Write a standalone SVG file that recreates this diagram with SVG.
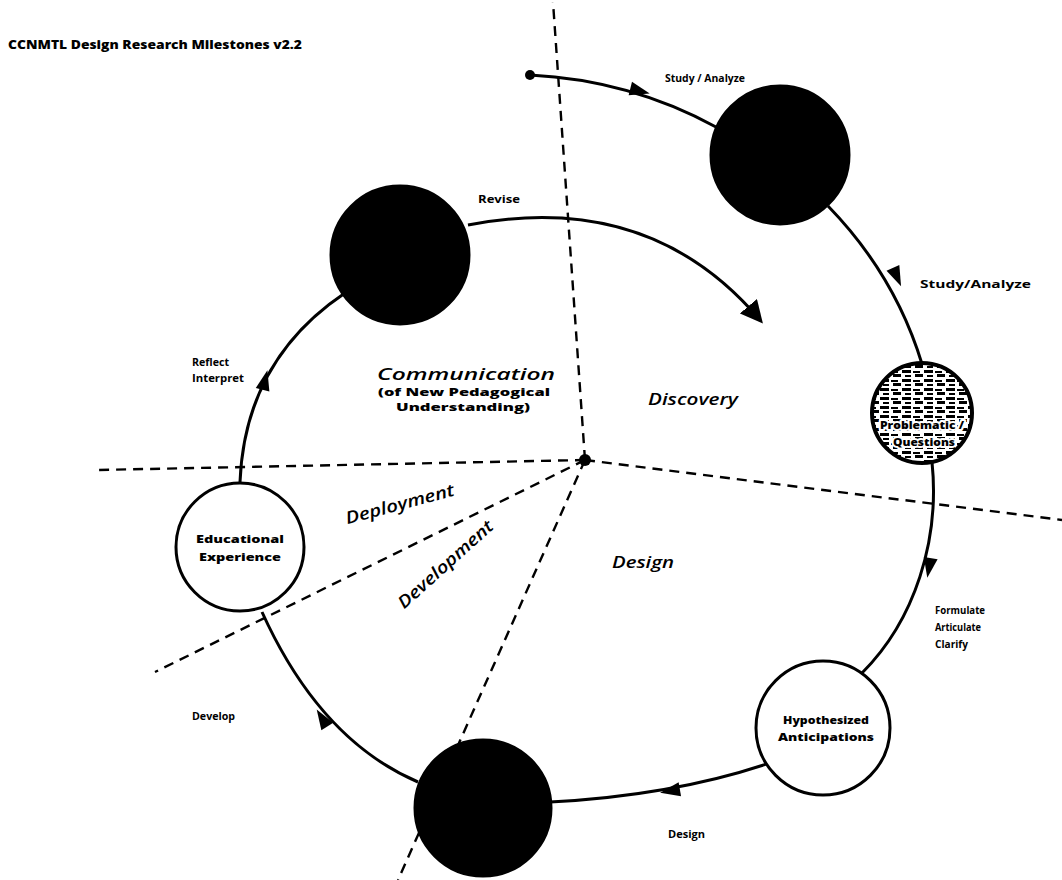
<svg xmlns="http://www.w3.org/2000/svg" width="1062" height="880" viewBox="0 0 1062 880">
<style>
.t{font-family:"Open Sans","Liberation Sans",sans-serif;fill:#000}
.lbl{font-size:10px;font-weight:bold}
.reg{font-size:17px;font-style:italic;font-weight:600}
.dash{stroke:#000;stroke-width:2.4;stroke-dasharray:10 7;fill:none}
.flow{stroke:#000;stroke-width:3;fill:none}
.node{stroke:#000;stroke-width:3}
.ntx{font-size:11px;font-weight:800;text-anchor:middle}
.halo{stroke:#fff;stroke-width:4;paint-order:stroke;stroke-linejoin:round}
</style>
<defs>
<marker id="ah" viewBox="0 0 10 10" refX="8" refY="5" markerWidth="7.5" markerHeight="7.5" orient="auto" markerUnits="strokeWidth">
<path d="M0,0 L10,5 L0,10 z" fill="#000"/>
</marker>
<pattern id="hatch" width="22" height="9" patternUnits="userSpaceOnUse">
<rect width="22" height="9" fill="#fff"/>
<rect x="0" y="1" width="9" height="3" fill="#000"/>
<rect x="11" y="2" width="7" height="2" fill="#000"/>
<rect x="3" y="6" width="6" height="2" fill="#000"/>
<rect x="13" y="5" width="8" height="3" fill="#000"/>
</pattern>
<path id="tri" d="M-10,-7 L10,0 L-10,7 z" fill="#000"/>
</defs>
<rect width="1062" height="880" fill="#fff"/>
<text class="t" x="8" y="49" font-size="13" font-weight="800" textLength="294" lengthAdjust="spacingAndGlyphs">CCNMTL Design Research Milestones v2.2</text>

<g id="sectors">
<line class="dash" x1="585" y1="460" x2="553" y2="2"/>
<line class="dash" x1="585" y1="460" x2="98" y2="470"/>
<line class="dash" x1="585" y1="460" x2="1062" y2="520"/>
<line class="dash" x1="585" y1="460" x2="155" y2="672"/>
<line class="dash" x1="585" y1="460" x2="398" y2="880"/>
<circle cx="585" cy="460" r="6" fill="#000"/>
</g>

<g id="connectors">
<circle cx="530" cy="75" r="5" fill="#000"/>
<path class="flow" d="M530,75 Q630,80 716,127"/>
<path class="flow" d="M828,206 Q895,275 922,364"/>
<path class="flow" d="M932,462 C940,540 915,620 862,673"/>
<path class="flow" d="M778,760 Q680,795 550,802"/>
<path class="flow" d="M418,782 Q320,740 262,612"/>
<path class="flow" d="M240,482 Q245,360 345,293"/>
<path class="flow" d="M468,225 Q650,190 760,320" marker-end="url(#ah)"/>
<use href="#tri" transform="translate(640,91) rotate(14)"/>
<use href="#tri" transform="translate(897,277) rotate(66)"/>
<use href="#tri" transform="translate(929,568) rotate(100)"/>
<use href="#tri" transform="translate(670,791) rotate(170)"/>
<use href="#tri" transform="translate(322,718) rotate(-122)"/>
<use href="#tri" transform="translate(265,380) rotate(-76)"/>
</g>

<g id="edge-labels">
<text class="t lbl" x="665" y="82" textLength="80" lengthAdjust="spacingAndGlyphs">Study / Analyze</text>
<text class="t lbl" x="920" y="288" textLength="111" lengthAdjust="spacingAndGlyphs">Study/Analyze</text>
<text class="t lbl" x="935" y="614" textLength="50" lengthAdjust="spacingAndGlyphs">Formulate</text>
<text class="t lbl" x="935" y="631" textLength="46" lengthAdjust="spacingAndGlyphs">Articulate</text>
<text class="t lbl" x="935" y="648" textLength="33" lengthAdjust="spacingAndGlyphs">Clarify</text>
<text class="t lbl" x="668" y="838" textLength="37" lengthAdjust="spacingAndGlyphs">Design</text>
<text class="t lbl" x="192" y="720" textLength="43" lengthAdjust="spacingAndGlyphs">Develop</text>
<text class="t lbl" x="192" y="366" textLength="37" lengthAdjust="spacingAndGlyphs">Reflect</text>
<text class="t lbl" x="192" y="382" textLength="52" lengthAdjust="spacingAndGlyphs">Interpret</text>
<text class="t lbl" x="478" y="203" textLength="42" lengthAdjust="spacingAndGlyphs">Revise</text>
</g>

<g id="regions">
<text class="t reg" x="377" y="380" textLength="178" lengthAdjust="spacingAndGlyphs" font-weight="400">Communication</text>
<text class="t" x="378" y="396" font-size="11" font-weight="800" textLength="172" lengthAdjust="spacingAndGlyphs">(of New Pedagogical</text>
<text class="t" x="396" y="411" font-size="11" font-weight="800" textLength="134" lengthAdjust="spacingAndGlyphs">Understanding)</text>
<text class="t reg" x="648" y="405" font-weight="800" textLength="90" lengthAdjust="spacingAndGlyphs">Discovery</text>
<text class="t reg" x="400" y="510" text-anchor="middle" transform="rotate(-15 400 505)" textLength="112" lengthAdjust="spacingAndGlyphs">Deployment</text>
<text class="t reg" x="446" y="570" text-anchor="middle" transform="rotate(-42 446 565)" textLength="122" lengthAdjust="spacingAndGlyphs">Development</text>
<text class="t reg" x="612" y="568" textLength="62" lengthAdjust="spacingAndGlyphs">Design</text>
</g>

<g id="node-a"><circle class="node" cx="780" cy="155" r="69" fill="#000"/></g>
<g id="node-b">
<circle cx="922" cy="413" r="50" fill="url(#hatch)" stroke="#000" stroke-width="4"/>
<text class="t ntx halo" x="922" y="429" textLength="84" lengthAdjust="spacingAndGlyphs">Problematic /</text>
<text class="t ntx halo" x="924" y="446" textLength="62" lengthAdjust="spacingAndGlyphs">Questions</text>
</g>
<g id="node-c"><circle class="node" cx="823" cy="728" r="67" fill="#fff"/>
<text class="t ntx" x="826" y="724" textLength="86" lengthAdjust="spacingAndGlyphs">Hypothesized</text>
<text class="t ntx" x="826" y="741" textLength="96" lengthAdjust="spacingAndGlyphs">Anticipations</text>
</g>
<g id="node-d"><circle class="node" cx="483" cy="808" r="68" fill="#000"/></g>
<g id="node-e"><circle class="node" cx="240" cy="547" r="64" fill="#fff"/>
<text class="t ntx" x="240" y="543" textLength="88" lengthAdjust="spacingAndGlyphs">Educational</text>
<text class="t ntx" x="240" y="561" textLength="82" lengthAdjust="spacingAndGlyphs">Experience</text>
</g>
<g id="node-f"><circle class="node" cx="400" cy="255" r="69" fill="#000"/></g>
</svg>
